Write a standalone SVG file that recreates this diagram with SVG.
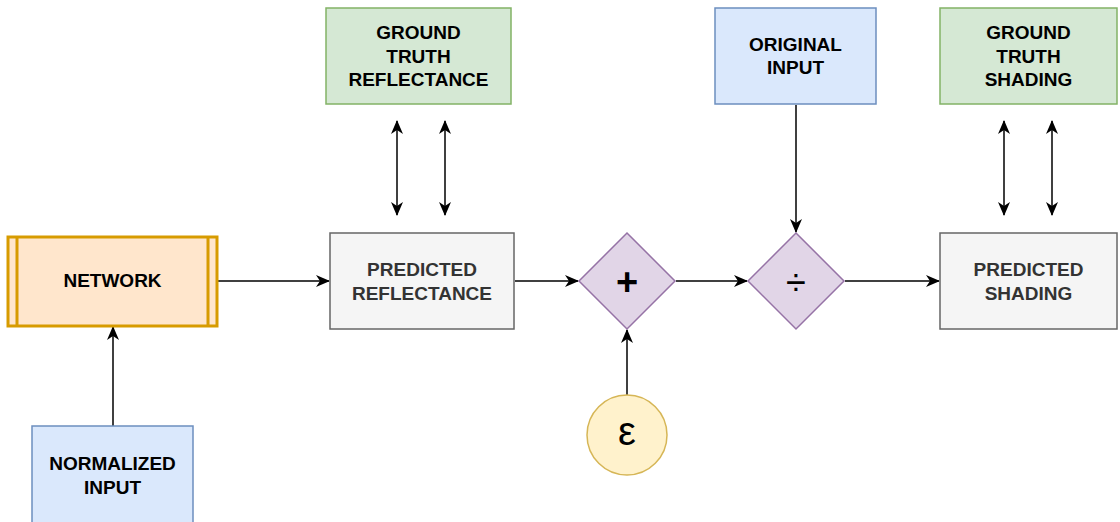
<svg xmlns="http://www.w3.org/2000/svg" width="1120" height="522" viewBox="0 0 1120 522">
  <defs>
    <marker id="arrow" viewBox="0 0 14 12" markerWidth="14" markerHeight="12" refX="13" refY="6" orient="auto-start-reverse" markerUnits="userSpaceOnUse">
      <path d="M0,0 L14,6 L0,12 L4,6 Z" fill="#000"/>
    </marker>
  </defs>
  <style>
    text { font-family: "Liberation Sans", Arial, sans-serif; font-weight: bold; font-size: 19px; text-anchor: middle; fill: #000; }
    .pred text { fill: #333; }
    .edge { stroke: #000; stroke-width: 1.5; fill: none; }
    .blue { fill: #dae8fc; stroke: #6c8ebf; stroke-width: 1.5; }
    .green { fill: #d5e8d4; stroke: #82b366; stroke-width: 1.5; }
    .grey { fill: #f5f5f5; stroke: #666666; stroke-width: 1.5; }
    .op { fill: #e1d5e7; stroke: #9673a6; stroke-width: 1.5; }
    .eps { fill: #fff2cc; stroke: #d6b656; stroke-width: 1.5; }
    .net { fill: #ffe6cc; stroke: #d79b00; stroke-width: 3; }
  </style>

  <g id="connectors">
    <line class="edge" x1="113" y1="426" x2="113" y2="327" marker-end="url(#arrow)"/>
    <line class="edge" x1="218" y1="281" x2="329" y2="281" marker-end="url(#arrow)"/>
    <line class="edge" x1="515" y1="281" x2="578" y2="281" marker-end="url(#arrow)"/>
    <line class="edge" x1="676" y1="281" x2="747" y2="281" marker-end="url(#arrow)"/>
    <line class="edge" x1="845" y1="281" x2="939" y2="281" marker-end="url(#arrow)"/>
    <line class="edge" x1="627" y1="395" x2="627" y2="330" marker-end="url(#arrow)"/>
    <line class="edge" x1="796" y1="105" x2="796" y2="232" marker-end="url(#arrow)"/>
    <line class="edge" x1="397" y1="121" x2="397" y2="215" marker-start="url(#arrow)" marker-end="url(#arrow)"/>
    <line class="edge" x1="445" y1="121" x2="445" y2="215" marker-start="url(#arrow)" marker-end="url(#arrow)"/>
    <line class="edge" x1="1004" y1="121" x2="1004" y2="215" marker-start="url(#arrow)" marker-end="url(#arrow)"/>
    <line class="edge" x1="1052" y1="121" x2="1052" y2="215" marker-start="url(#arrow)" marker-end="url(#arrow)"/>
  </g>

  <g id="network">
    <rect class="net" x="8" y="237" width="209" height="89"/>
    <line class="net" x1="17" y1="237" x2="17" y2="326"/>
    <line class="net" x1="208" y1="237" x2="208" y2="326"/>
    <text x="112.5" y="287">NETWORK</text>
  </g>

  <g id="normalized-input">
    <rect class="blue" x="32" y="426" width="161" height="100"/>
    <text x="112.5" y="470">NORMALIZED</text>
    <text x="112.5" y="493.5">INPUT</text>
  </g>

  <g id="predicted-reflectance" class="pred">
    <rect class="grey" x="330" y="233" width="184" height="96"/>
    <text x="422" y="276">PREDICTED</text>
    <text x="422" y="300">REFLECTANCE</text>
  </g>

  <g id="ground-truth-reflectance">
    <rect class="green" x="326" y="8" width="185" height="96"/>
    <text x="418.5" y="39">GROUND</text>
    <text x="418.5" y="62.5">TRUTH</text>
    <text x="418.5" y="86">REFLECTANCE</text>
  </g>

  <g id="add">
    <polygon class="op" points="627,233 675,281 627,329 579,281"/>
    <text x="627" y="295" style="font-size:38px">+</text>
  </g>

  <g id="epsilon">
    <circle class="eps" cx="627" cy="435" r="40"/>
    <text x="627" y="445" style="font-size:40px;font-weight:normal">ε</text>
  </g>

  <g id="original-input">
    <rect class="blue" x="715" y="8" width="161" height="96"/>
    <text x="795.5" y="50.5">ORIGINAL</text>
    <text x="795.5" y="74">INPUT</text>
  </g>

  <g id="divide">
    <polygon class="op" points="796,233 844,281 796,329 748,281"/>
    <text x="796" y="295" style="font-size:36px;font-weight:normal">÷</text>
  </g>

  <g id="ground-truth-shading">
    <rect class="green" x="940" y="8" width="177" height="96"/>
    <text x="1028.5" y="39">GROUND</text>
    <text x="1028.5" y="62.5">TRUTH</text>
    <text x="1028.5" y="86">SHADING</text>
  </g>

  <g id="predicted-shading" class="pred">
    <rect class="grey" x="940" y="233" width="177" height="96"/>
    <text x="1028.5" y="276">PREDICTED</text>
    <text x="1028.5" y="300">SHADING</text>
  </g>
</svg>
